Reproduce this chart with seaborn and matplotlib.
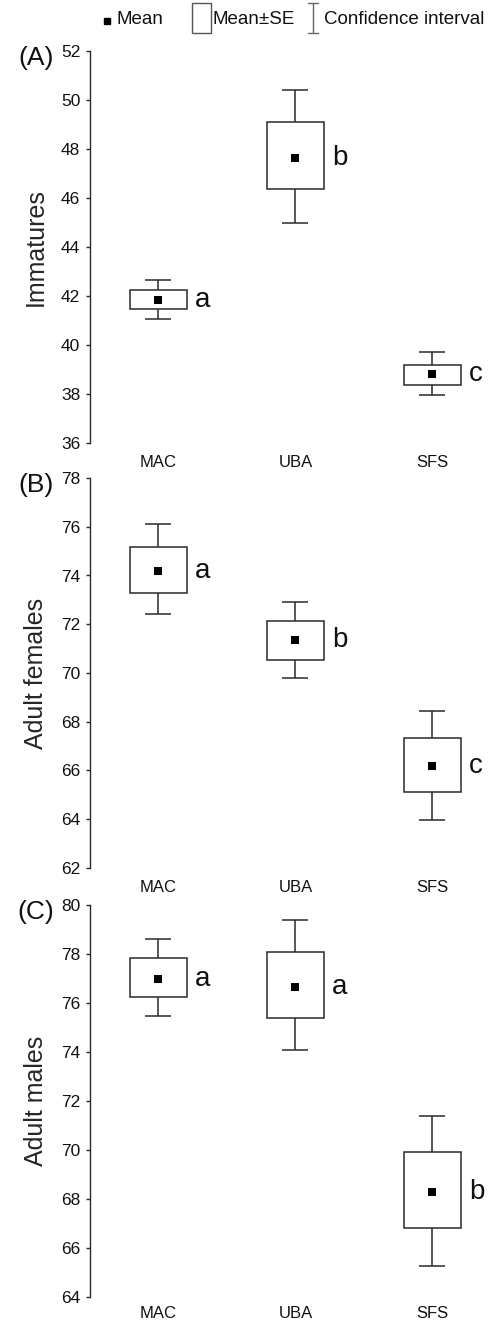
import numpy as np
import pandas as pd
import matplotlib
matplotlib.use("Agg")
import matplotlib.pyplot as plt
import seaborn as sns
from matplotlib.patches import Rectangle
from matplotlib.lines import Line2D

# ---- data ----
sites = ["MAC", "UBA", "SFS"]

imm_mean = [41.85, 47.65, 38.80]
imm_se_lo = [41.45, 46.35, 38.35]
imm_se_hi = [42.25, 49.10, 39.20]
imm_ci_lo = [41.05, 45.00, 37.95]
imm_ci_hi = [42.65, 50.40, 39.70]
imm_letters = ["a", "b", "c"]

fem_mean = [74.20, 71.35, 66.20]
fem_se_lo = [73.27, 70.55, 65.10]
fem_se_hi = [75.15, 72.12, 67.35]
fem_ci_lo = [72.40, 69.80, 63.95]
fem_ci_hi = [76.10, 72.90, 68.45]
fem_letters = ["a", "b", "c"]

mal_mean = [76.98, 76.66, 68.30]
mal_se_lo = [76.25, 75.38, 66.80]
mal_se_hi = [77.82, 78.10, 69.90]
mal_ci_lo = [75.48, 74.10, 65.25]
mal_ci_hi = [78.60, 79.38, 71.40]
mal_letters = ["a", "a", "b"]

panel_tags = ["(A)", "(B)", "(C)"]
ylabels = ["Immatures", "Adult females", "Adult males"]
ylims = [(36, 52), (62, 78), (64, 80)]
yticks = [list(range(36, 53, 2)), list(range(62, 79, 2)), list(range(64, 81, 2))]

panels = [
    (imm_mean, imm_se_lo, imm_se_hi, imm_ci_lo, imm_ci_hi, imm_letters),
    (fem_mean, fem_se_lo, fem_se_hi, fem_ci_lo, fem_ci_hi, fem_letters),
    (mal_mean, mal_se_lo, mal_se_hi, mal_ci_lo, mal_ci_hi, mal_letters),
]

# ---- style ----
sns.set_theme(style="white")
plt.rcParams["font.family"] = ["Liberation Sans", "DejaVu Sans"]
LC = "#2a2a2a"

W, H = 492, 1321
fig = plt.figure(figsize=(W / 100, H / 100), dpi=100)
fig.patch.set_facecolor("white")

# axes boxes in pixel coordinates (left, top, right, bottom)
ax_px = [(90, 51, 490, 443), (90, 478, 490, 868), (90, 905, 490, 1297)]
xpads = [8.5, 8.5, 6.5]

for k, (mean, se_lo, se_hi, ci_lo, ci_hi, letters) in enumerate(panels):
    l, t, r, b = ax_px[k]
    ax = fig.add_axes([l / W, 1 - b / H, (r - l) / W, (b - t) / H])
    ax.set_facecolor("white")
    x = np.arange(len(sites))
    mean = np.asarray(mean)
    df = pd.DataFrame({"site": sites, "x": x, "mean": mean})

    # confidence interval whiskers
    ax.errorbar(x, mean, yerr=[mean - np.asarray(ci_lo), np.asarray(ci_hi) - mean],
                fmt="none", ecolor=LC, elinewidth=1.1, capsize=9.7, capthick=1.1, zorder=1)
    # mean +/- SE boxes
    ax.bar(x, np.asarray(se_hi) - np.asarray(se_lo), bottom=se_lo, width=0.41,
           color="white", edgecolor=LC, linewidth=1.1, zorder=2)
    # means
    sns.scatterplot(data=df, x="x", y="mean", marker="s", s=34, color="black",
                    edgecolor="black", linewidth=0, ax=ax, zorder=3, legend=False)
    # significance letters
    for xi, m, lt in zip(x, mean, letters):
        ax.text(xi + 0.265, m, lt, ha="left", va="center", fontsize=20, color="#111111")

    ax.set_xlim(-0.5, 2.42)
    ax.set_ylim(*ylims[k])
    ax.set_yticks(yticks[k])
    ax.set_xticks(x)
    ax.set_xticklabels(sites)
    ax.set_xlabel("")
    ax.set_ylabel(ylabels[k], fontsize=18)
    ax.yaxis.set_label_coords(-0.105, 0.5)
    for s in ["top", "right", "bottom"]:
        ax.spines[s].set_visible(False)
    ax.spines["left"].set_color(LC)
    ax.spines["left"].set_linewidth(1.0)
    ax.tick_params(axis="y", which="both", direction="out", length=3, width=1.0,
                   color=LC, pad=4, labelsize=12.5, left=True, labelcolor="#111111")
    ax.tick_params(axis="x", length=0, pad=xpads[k], labelsize=12, labelcolor="#111111")
    ax.grid(False)
    ax.text(-0.136, 0.982, panel_tags[k], transform=ax.transAxes, ha="center",
            va="center", fontsize=19, color="#111111")

# ---- legend (top) ----
def fx(px):
    return px / W

def fy(py):
    return 1 - py / H

fig.add_artist(Line2D([fx(107)], [fy(21)], marker="s", markersize=4.5, color="black",
                      linestyle="none", transform=fig.transFigure))
fig.text(fx(117), fy(20), "Mean", ha="left", va="center", fontsize=13.5, color="#111111")
fig.add_artist(Rectangle((fx(192), fy(33)), fx(211) - fx(192), fy(3) - fy(33),
                         transform=fig.transFigure, facecolor="white",
                         edgecolor="#555555", linewidth=1.0))
fig.text(fx(213), fy(19), "Mean\u00b1SE", ha="left", va="center", fontsize=13.5, color="#111111")
fig.add_artist(Line2D([fx(313), fx(313)], [fy(3), fy(33)], color="#666666", lw=1.0,
                      transform=fig.transFigure))
fig.add_artist(Line2D([fx(308), fx(318)], [fy(3), fy(3)], color="#666666", lw=1.0,
                      transform=fig.transFigure))
fig.add_artist(Line2D([fx(308), fx(318)], [fy(33), fy(33)], color="#666666", lw=1.0,
                      transform=fig.transFigure))
fig.text(fx(324), fy(19), "Confidence interval", ha="left", va="center", fontsize=13.5,
         color="#111111")

fig.savefig("out.png", dpi=100, facecolor="white")
